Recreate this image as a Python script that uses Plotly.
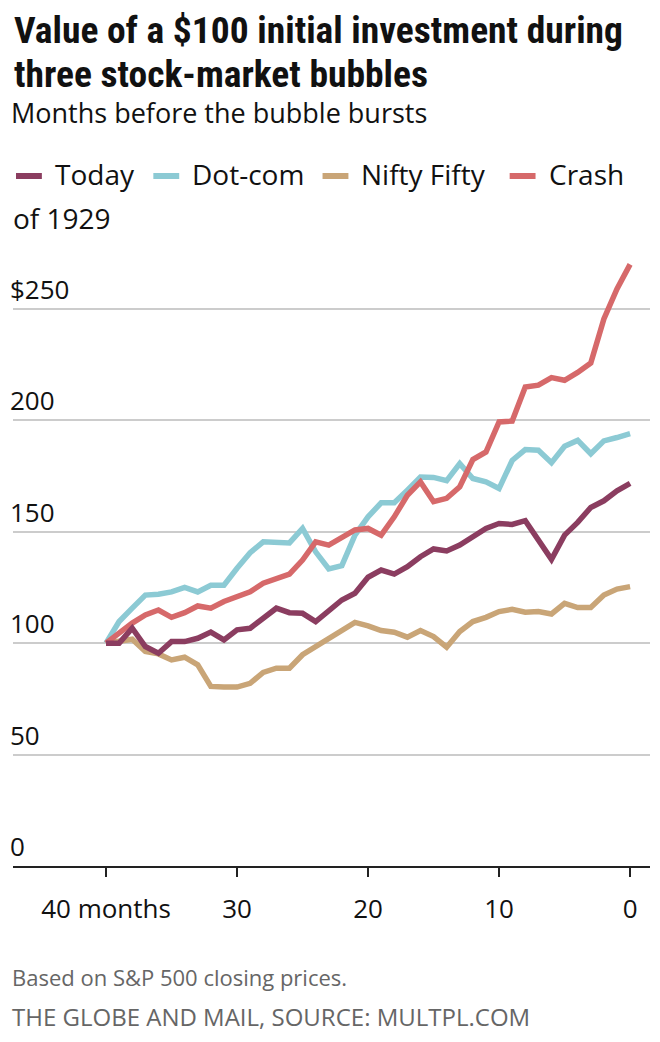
import plotly.graph_objects as go

# ---------------- data ----------------
months = list(range(40, -1, -1))

today = [100, 100, 106.7, 98.5, 95.5, 100.7, 100.7, 102.2, 105, 101.5,
         106, 106.7, 111.2, 115.7, 113.7, 113.4, 109.7, 114.2, 119.4, 122.4,
         129.6, 132.8, 131, 134.3, 138.8, 142.3, 141.4, 144, 147.8, 151.5,
         153.7, 153.3, 155, 146.3, 137.6, 148.5, 154.2, 160.9, 163.9, 168.4,
         171.7]

dotcom = [100, 109.7, 115.7, 121.6, 122, 123, 125, 123, 126, 126,
          133.6, 140.6, 145.5, 145, 145, 151.5, 141, 133.3, 134.8, 148.5,
          156.7, 163, 163, 168.7, 174.6, 174.4, 172.9, 180.6, 173.9, 172.4,
          169.4, 182, 186.9, 186.6, 181, 188.4, 191, 185, 190.8, 192.3,
          194]

nifty = [100, 100.7, 101.8, 96.3, 95.2, 92.5, 93.7, 90.3, 80.6, 80.3,
         80.3, 82, 86.9, 88.8, 88.8, 94.8, 98.5, 102.2, 105.7, 109.3,
         107.8, 105.7, 104.9, 102.7, 105.7, 103, 98.2, 105.2, 109.7, 111.6,
         114.2, 115.2, 113.9, 114.2, 113.1, 117.9, 116, 116, 121.6, 124.3,
         125.4]

crash = [100, 104.5, 109, 112.7, 114.9, 111.6, 113.7, 116.7, 115.7, 118.7,
         120.6, 123.1, 126.9, 128.7, 131, 137.3, 145.5, 144, 147.5, 150.8,
         151.5, 148.5, 156.7, 166.4, 172.4, 163.5, 165, 170.2, 182.4, 185.8,
         199.3, 199.7, 215, 215.8, 219.2, 218, 221.5, 225.7, 245.5, 259,
         270]

series_names = ["Today", "Dot-com", "Nifty Fifty", "Crash of 1929"]
series_values = [today, dotcom, nifty, crash]
colors = ["#8b3d60", "#8ccad4", "#c9a577", "#d6696a"]

y_tickvals = [0, 50, 100, 150, 200, 250]
y_ticktext = ["0", "50", "100", "150", "200", "$250"]
x_tickvals = [40, 30, 20, 10, 0]
x_ticktext = ["40 months", "30", "20", "10", "0"]

title_lines = ["Value of a $100 initial investment during",
               "three stock-market bubbles"]
subtitle = "Months before the bubble bursts"
note = "Based on S&P 500 closing prices."
source = "THE GLOBE AND MAIL, SOURCE: MULTPL.COM"

# ---------------- layout geometry ----------------
# page body has an 8px margin, so the figure is drawn 8px smaller
OFF = 8
W, H = 660 - OFF, 1042 - OFF
L, R, T, B = 2, 10, 237, 176
PW, PH = W - L - R, H - T - B

BODY = "Open Sans, Lato, sans-serif"
HEAD = "Roboto Condensed, Roboto, sans-serif"


def xp(rx):
    # reference-page x pixel -> paper coordinate
    return (rx - OFF - L) / PW


def yp(ry):
    # reference-page y pixel -> paper coordinate
    return (H - B - (ry - OFF)) / PH


fig = go.Figure()
draw_order = [2, 1, 3, 0]
for i in draw_order:
    fig.add_trace(go.Scatter(
        x=months, y=series_values[i], mode="lines", name=series_names[i],
        line=dict(color=colors[i], width=5.5), hoverinfo="x+y+name",
    ))

annotations = []
shapes = []

# title / subtitle
annotations.append(dict(text="<b>" + title_lines[0] + "</b>", x=xp(9), y=yp(29.5),
                        xanchor="left", yanchor="middle",
                        font=dict(family=HEAD, size=37.5, color="#111")))
annotations.append(dict(text="<b>" + title_lines[1] + "</b>", x=xp(9), y=yp(73.5),
                        xanchor="left", yanchor="middle",
                        font=dict(family=HEAD, size=37.5, color="#111")))
annotations.append(dict(text=subtitle, x=xp(6), y=yp(113),
                        xanchor="left", yanchor="middle",
                        font=dict(family=BODY, size=27, color="#111")))

# custom legend
legend_items = [
    (10, 42, 50, "Today", 176),
    (148, 180, 188, "Dot-com", 176),
    (318, 350, 358, "Nifty Fifty", 176),
    (506, 538, 547, "Crash", 176),
]
for k, (x0, x1, tx, label, cy) in enumerate(legend_items):
    shapes.append(dict(type="line", xref="paper", yref="paper",
                       x0=xp(x0 + 3), x1=xp(x1 - 3), y0=yp(cy), y1=yp(cy),
                       line=dict(color=colors[k], width=6)))
    annotations.append(dict(text=label, x=xp(tx), y=yp(cy - 2),
                            xanchor="left", yanchor="middle",
                            font=dict(family=BODY, size=28, color="#111")))
annotations.append(dict(text="of 1929", x=xp(8), y=yp(218),
                        xanchor="left", yanchor="middle",
                        font=dict(family=BODY, size=28, color="#111")))

# footer
annotations.append(dict(text=note, x=xp(7), y=yp(977),
                        xanchor="left", yanchor="middle",
                        font=dict(family=BODY, size=22, color="#666")))
annotations.append(dict(text=source, x=xp(7), y=yp(1016),
                        xanchor="left", yanchor="middle",
                        font=dict(family=BODY, size=24, color="#666")))

for a in annotations:
    a.update(xref="paper", yref="paper", showarrow=False)

fig.update_layout(
    width=W, height=H,
    margin=dict(l=L, r=R, t=T, b=B, pad=0),
    paper_bgcolor="white", plot_bgcolor="white",
    showlegend=False,
    annotations=annotations, shapes=shapes,
    xaxis=dict(
        range=[47.1, -1.52], tickvals=x_tickvals, ticktext=x_ticktext,
        showgrid=False, zeroline=False,
        showline=True, linecolor="#222", linewidth=2,
        ticks="outside", ticklen=9, tickwidth=2, tickcolor="#222",
        tickfont=dict(family=BODY, size=26, color="#111"),
        ticklabelstandoff=10,
        fixedrange=True,
    ),
    yaxis=dict(
        range=[0, 278.7], tickvals=y_tickvals, ticktext=y_ticktext,
        showgrid=True, gridcolor="#cccccc", gridwidth=2,
        zeroline=False, showline=False, ticks="",
        ticklabelposition="inside", ticklabelshift=-19, ticklabelstandoff=-6,
        tickfont=dict(family=BODY, size=26, color="#111"),
        fixedrange=True,
    ),
)

fig.write_html("out.html")
